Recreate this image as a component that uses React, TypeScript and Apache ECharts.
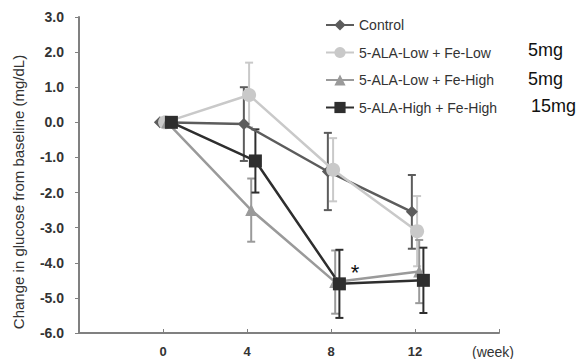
import React, { useEffect, useRef } from "react";
import * as echarts from "echarts";

const weeks = [0, 4, 8, 12];
const seriesNames = ["Control", "5-ALA-Low + Fe-Low", "5-ALA-Low + Fe-High", "5-ALA-High + Fe-High"];
const controlMean = [0, -0.05, -1.4, -2.55];
const controlErr = [0, 1.05, 1.1, 1.05];
const lowLowMean = [0, 0.78, -1.35, -3.1];
const lowLowErr = [0, 0.92, 0.9, 1.0];
const lowHighMean = [0, -2.5, -4.55, -4.25];
const lowHighErr = [0, 0.9, 0.9, 0.9];
const highHighMean = [0, -1.1, -4.6, -4.5];
const highHighErr = [0, 0.9, 0.97, 0.93];
const doseLabels = ["", "5mg", "5mg", "15mg"];
const xTicks = [0, 4, 8, 12];
const yAxisTitle = "Change in glucose from baseline (mg/dL)";

const means = [controlMean, lowLowMean, lowHighMean, highHighMean];
const errs = [controlErr, lowLowErr, lowHighErr, highHighErr];
const offsets = [-0.15, 0.1, 0.2, 0.4];
const colors = ["#5c5c5c", "#c9c9c9", "#9a9a9a", "#2e2e2e"];
const symbols = ["diamond", "circle", "triangle", "rect"];
const symbolSizes = [12, 14, 12, 13];
const FONT = "Liberation Sans, Arial, sans-serif";

export default function App() {
  const ref = useRef<HTMLDivElement>(null);
  useEffect(() => {
    if (!ref.current) return;
    document.body.style.margin = "0";
    const chart = echarts.init(ref.current, null, { renderer: "svg" });
    const series: any[] = [];
    means.forEach((m, i) => {
      const data = weeks.map((w, j) => [w + offsets[i], m[j]]);
      series.push({
        type: "custom",
        name: seriesNames[i] + " err",
        z: 3,
        renderItem: (params: any, api: any) => {
          const x = api.value(0);
          const lo = api.value(1);
          const hi = api.value(2);
          const p1 = api.coord([x, hi]);
          const p2 = api.coord([x, lo]);
          const cw = 4;
          const style = { stroke: colors[i], lineWidth: 2 };
          return {
            type: "group",
            children: [
              { type: "line", shape: { x1: p1[0], y1: p1[1], x2: p2[0], y2: p2[1] }, style },
              { type: "line", shape: { x1: p1[0] - cw, y1: p1[1], x2: p1[0] + cw, y2: p1[1] }, style },
              { type: "line", shape: { x1: p2[0] - cw, y1: p2[1], x2: p2[0] + cw, y2: p2[1] }, style },
            ],
          };
        },
        data: weeks.map((w, j) => [w + offsets[i], m[j] - errs[i][j], m[j] + errs[i][j]]),
        silent: true,
      });
      series.push({
        type: "line",
        name: seriesNames[i],
        data,
        z: 4,
        symbol: symbols[i],
        symbolSize: symbolSizes[i],
        showSymbol: true,
        itemStyle: { color: colors[i], opacity: 1 },
        lineStyle: { color: colors[i], width: 2.5 },
      });
    });
    chart.setOption({
      animation: false,
      backgroundColor: "#ffffff",
      grid: { left: 79, right: 83, top: 17, bottom: 26, containLabel: false },
      legend: {
        data: seriesNames,
        orient: "vertical",
        left: 320,
        top: 13,
        padding: 5,
        itemWidth: 28,
        itemHeight: 14,
        itemGap: 13.5,
        textStyle: { fontFamily: FONT, fontSize: 14, color: "#333" },
      },
      xAxis: {
        type: "value",
        min: -4,
        max: 16,
        interval: 4,
        axisLine: { onZero: false, lineStyle: { color: "#808080", width: 2 } },
        axisTick: { inside: true, length: 4, lineStyle: { color: "#808080" } },
        splitLine: { show: false },
        axisLabel: {
          formatter: (v: number) => (xTicks.includes(v) ? String(v) : ""),
          fontFamily: FONT,
          fontSize: 13,
          fontWeight: "bold",
          color: "#333",
          margin: 12,
        },
      },
      yAxis: {
        type: "value",
        min: -6,
        max: 3,
        interval: 1,
        axisLine: { show: true, onZero: false, lineStyle: { color: "#808080", width: 2 } },
        axisTick: { show: true, length: 4, lineStyle: { color: "#808080" } },
        splitLine: { show: false },
        axisLabel: {
          formatter: (v: number) => v.toFixed(1),
          fontFamily: FONT,
          fontSize: 14,
          fontWeight: "bold",
          color: "#333",
          margin: 15,
        },
      },
      graphic: [
        {
          type: "text",
          x: 18,
          y: 192,
          rotation: Math.PI / 2,
          style: {
            text: yAxisTitle,
            fontFamily: FONT,
            fontSize: 15,
            fill: "#333",
            align: "center",
            verticalAlign: "middle",
          },
        },
        ...doseLabels.map((t, i) => ({
          type: "text",
          x: i === 3 ? 531 : 528,
          y: [23, 50, 79, 106][i],
          style: { text: t, fontFamily: FONT, fontSize: 18, fill: "#111", verticalAlign: "middle" },
        })),
        {
          type: "text",
          x: 472,
          y: 352,
          style: { text: "(week)", fontFamily: FONT, fontSize: 14, fill: "#333", verticalAlign: "middle" },
        },
        {
          type: "text",
          x: 355,
          y: 272,
          style: { text: "*", fontFamily: FONT, fontSize: 22, fill: "#111", align: "center", verticalAlign: "middle" },
        },
      ],
      series,
    });
    return () => chart.dispose();
  }, []);
  return <div ref={ref} style={{ width: 582, height: 359 }} />;
}
